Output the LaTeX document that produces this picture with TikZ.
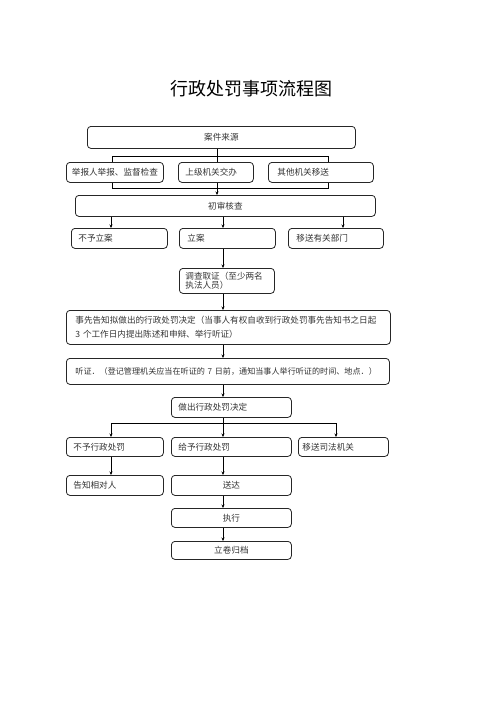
\documentclass[tikz,border=0pt]{standalone}
\usepackage{fontspec}
\setmainfont{Noto Sans CJK SC}
\newfontfamily\cjk{Noto Sans CJK SC}
\usetikzlibrary{arrows.meta}
\begin{document}
\begin{tikzpicture}[x=1pt,y=-1pt,
  box/.style={draw=black!85, line width=0.8pt, rounded corners=3.5pt, inner sep=0pt, font=\cjk\fontsize{8.6}{11}\selectfont, text=black!80, anchor=north west},
  lbox/.style={box, align=left, inner xsep=#1},
  ln/.style={draw=black, line width=0.8pt},
  arr/.style={ln, -{Stealth[length=3.5pt,width=3pt]}}]
\useasboundingbox (0,0) rectangle (496,702);
\node[font=\cjk\fontsize{18}{20}\selectfont, text=black] (title) at (251,89) {行政处罚事项流程图};
% row 1
\node[box, minimum width=268pt, minimum height=22pt] (src) at (87,126) {案件来源};
% row 2
\node[box, minimum width=97pt, minimum height=20pt] (r2a) at (66,162) {举报人举报、监督检查};
\node[lbox=7pt, text width=61pt, minimum height=20pt] (r2b) at (178,162) {上级机关交办};
\node[lbox=9pt, text width=87pt, minimum height=20pt] (r2c) at (268,162) {其他机关移送};
% row 3
\node[box, minimum width=300pt, minimum height=21pt] (cs) at (75,195) {初审核查};
% row 4
\node[lbox=7pt, text width=82pt, minimum height=20pt] (r3a) at (71,228) {不予立案};
\node[lbox=8pt, text width=80pt, minimum height=20pt] (r3b) at (179,228) {立案};
\node[lbox=8pt, text width=79pt, minimum height=20pt] (r3c) at (288,228) {移送有关部门};
% investigation
\node[lbox=6pt, text width=83pt, minimum height=25pt] (dc) at (179,268) {调查取证（至少两名\\[-2.5pt]执法人员）};
\node[lbox=9pt, text width=306pt, minimum height=34pt] (sx) at (66,310) {事先告知拟做出的行政处罚决定（当事人有权自收到行政处罚事先告知书之日起\\[3pt]3 个工作日内提出陈述和申辩、举行听证）};
\node[lbox=9pt, text width=305pt, minimum height=26pt, font=\cjk\fontsize{8.1}{11}\selectfont] (tz) at (66,358) {\mbox{听证．（登记管理机关应当在听证的 7 日前，通知当事人举行听证的时间、地点．）}};
\node[lbox=7pt, text width=106pt, minimum height=20pt] (zc) at (171,397) {做出行政处罚决定};
% row 5
\node[lbox=7pt, text width=83pt, minimum height=19pt] (r5a) at (66,437) {不予行政处罚};
\node[lbox=7pt, text width=106pt, minimum height=19pt] (r5b) at (171,437) {给予行政处罚};
\node[lbox=4pt, text width=82pt, minimum height=19pt] (r5c) at (298,437) {移送司法机关};
% row 6
\node[lbox=7pt, text width=83pt, minimum height=20pt] (r6a) at (66,475) {告知相对人};
\node[box, minimum width=120pt, minimum height=20pt] (r6b) at (171,475) {送达};
\node[box, minimum width=120pt, minimum height=19pt] (zx) at (171,508) {执行};
\node[box, minimum width=120pt, minimum height=18pt] (lj) at (171,541) {立卷归档};
% helper coordinates
\coordinate (j1) at (217,156);
\coordinate (jl) at (112,156);
\coordinate (jr) at (328,156);
\coordinate (k1) at (217,188);
\coordinate (kl) at (112,188);
\coordinate (kr) at (328,188);
\coordinate (m) at (223,0);
\coordinate (a3l) at (111,0);
\coordinate (a3r) at (343,0);
\coordinate (h) at (223,423);
\coordinate (hl) at (111,423);
\coordinate (hr) at (336,423);
% connectors top
\draw[ln] (j1 |- src.south) -- (j1);
\draw[ln] (jl) -- (jr);
\draw[ln] (jl) -- (jl |- r2a.north);
\draw[ln] (jr) -- (jr |- r2c.north);
\draw[ln] (j1) -- (j1 |- r2b.north);
\draw[ln] (kl |- r2a.south) -- (kl) -- (kr) -- (kr |- r2c.south);
\draw[arr] (k1 |- r2b.south) -- (k1 |- cs.north);
% initial check to row
\draw[arr] (a3l |- cs.south) -- (a3l |- r3a.north);
\draw[arr] (m |- cs.south) -- (m |- r3b.north);
\draw[arr] (a3r |- cs.south) -- (a3r |- r3c.north);
\draw[arr] (m |- r3b.south) -- (m |- dc.north);
\draw[arr] (m |- dc.south) -- (m |- sx.north);
\draw[arr] (m |- sx.south) -- (m |- tz.north);
\draw[arr] (m |- tz.south) -- (m |- zc.north);
% decision split
\draw[ln] (m |- zc.south) -- (h);
\draw[ln] (hl) -- (hr);
\draw[arr] (hl) -- (hl |- r5a.north);
\draw[arr] (h) -- (h |- r5b.north);
\draw[arr] (hr) -- (hr |- r5c.north);
\draw[arr] (hl |- r5a.south) -- (hl |- r6a.north);
\draw[arr] (m |- r5b.south) -- (m |- r6b.north);
\draw[arr] (m |- r6b.south) -- (m |- zx.north);
\draw[arr] (m |- zx.south) -- (m |- lj.north);
\end{tikzpicture}
\end{document}
